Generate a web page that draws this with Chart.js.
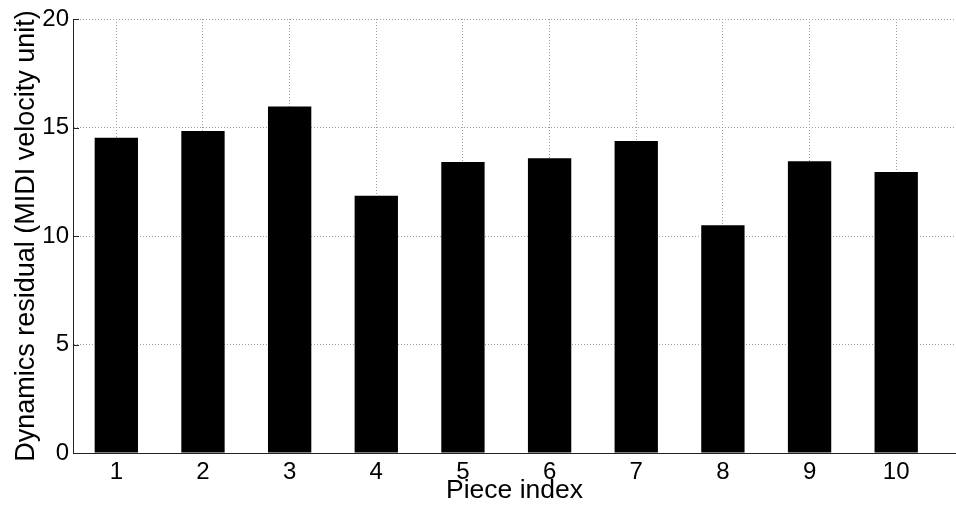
<!DOCTYPE html>
<html>
<head>
<meta charset="utf-8">
<script src="https://cdn.jsdelivr.net/npm/chart.js@4/dist/chart.umd.min.js"></script>
<style>
  html, body { margin: 0; padding: 0; background: #fff; }
  #wrap { width: 956px; height: 510px; position: relative; }
</style>
</head>
<body>
<div id="wrap"><canvas id="c"></canvas></div>
<script>
// Piece indices and their dynamics residuals
const pieces = [1, 2, 3, 4, 5, 6, 7, 8, 9, 10];
const residuals = [14.53, 14.84, 15.97, 11.86, 13.41, 13.58, 14.38, 10.50, 13.44, 12.95];
const yTicks = [0, 5, 10, 15, 20];

const FONT = "'Liberation Sans', Arial, Helvetica, sans-serif";

// short inward tick marks on the left axis
const inwardTicks = {
  id: 'inwardTicks',
  afterDraw(chart) {
    const { ctx, scales: { x, y } } = chart;
    ctx.save();
    ctx.strokeStyle = '#222';
    ctx.lineWidth = 1;
    ctx.setLineDash([]);
    ctx.beginPath();
    yTicks.forEach(v => {
      const py = Math.round(y.getPixelForValue(v)) + 0.5;
      ctx.moveTo(x.left, py);
      ctx.lineTo(x.left + 6, py);
    });
    ctx.stroke();
    ctx.restore();
  }
};

new Chart(document.getElementById('c'), {
  type: 'bar',
  data: {
    datasets: [{
      data: pieces.map((p, i) => ({ x: p, y: residuals[i] })),
      backgroundColor: '#000',
      borderColor: '#000',
      borderWidth: 0,
      categoryPercentage: 1.0,
      barPercentage: 0.5
    }]
  },
  options: {
    responsive: true,
    maintainAspectRatio: false,
    animation: false,
    layout: { padding: { top: 19, left: 0, right: 0, bottom: 0 } },
    plugins: { legend: { display: false }, tooltip: { enabled: false } },
    scales: {
      x: {
        type: 'linear',
        offset: false,
        min: 0.5,
        max: 10.69,
        afterBuildTicks: s => { s.ticks = pieces.map(v => ({ value: v })); },
        afterFit: s => { s.height = 57; },
        ticks: {
          color: '#000',
          font: { family: FONT, size: 24 },
          padding: 5,
          maxRotation: 0,
          autoSkip: false,
          callback: v => String(v)
        },
        grid: { color: '#a0a0a0', lineWidth: 1, drawTicks: false, offset: false },
        border: { color: '#222', width: 1, dash: [1, 2] },
        title: {
          display: true,
          text: 'Piece index',
          color: '#000',
          font: { family: FONT, size: 26.5 },
          padding: { top: 0, bottom: 3 }
        }
      },
      y: {
        min: 0,
        max: 20,
        afterBuildTicks: s => { s.ticks = yTicks.map(v => ({ value: v })); },
        afterFit: s => { s.width = 73; },
        ticks: {
          color: '#000',
          font: { family: FONT, size: 24 },
          padding: 4
        },
        grid: { color: '#a0a0a0', lineWidth: 1, drawTicks: false },
        border: { color: '#222', width: 1, dash: [1, 2] },
        title: {
          display: true,
          text: 'Dynamics residual (MIDI velocity unit)',
          color: '#000',
          font: { family: FONT, size: 27 },
          padding: { top: 10, bottom: 0 }
        }
      }
    }
  },
  plugins: [inwardTicks]
});
</script>
</body>
</html>
